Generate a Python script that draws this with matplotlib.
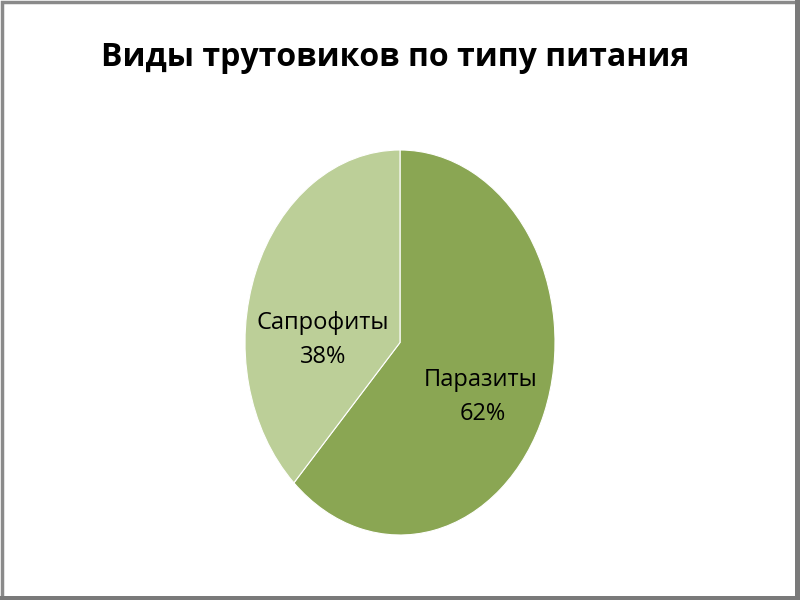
import matplotlib
matplotlib.use("Agg")
import matplotlib.pyplot as plt
from matplotlib.patches import Rectangle

title = "Виды трутовиков по типу питания"
categories = ["Паразиты", "Сапрофиты"]
values = [62, 38]
colors = ["#8aa653", "#bccf98"]

plt.rcParams['font.family'] = ['Open Sans', 'DejaVu Sans']

fig = plt.figure(figsize=(8, 6), dpi=100)
fig.patch.set_facecolor("white")

# frame
fig.add_artist(Rectangle((0.002, 0.003), 0.994, 0.994, transform=fig.transFigure,
                         fill=False, edgecolor="#8a8a8a", lw=2.5))
fig.add_artist(Rectangle((0.0, 0.0), 1.0, 0.006, transform=fig.transFigure,
                         color="#7a7a7a", lw=0))
fig.add_artist(Rectangle((0.994, 0.0), 0.006, 1.0, transform=fig.transFigure,
                         color="#7a7a7a", lw=0))

fig.text(0.494, 1 - 57/600, title, ha="center", va="center", fontsize=23,
         fontweight="bold", color="#000000")

ax = fig.add_axes([245/800, 65/600, 310/800, 385/600])
wedges, _ = ax.pie(values, colors=colors, startangle=90, counterclock=False,
                   radius=1.0, wedgeprops=dict(edgecolor="white", linewidth=0.8))
ax.set_aspect("auto")
ax.set_xlim(-1, 1)
ax.set_ylim(-1, 1)
ax.axis("off")

name_pos = [(481/800, 1 - 380/600), (323/800, 1 - 323/600)]
pct_pos = [(483/800, 1 - 414/600), (323/800, 1 - 357/600)]
for cat, v, (x1, y1), (x2, y2) in zip(categories, values, name_pos, pct_pos):
    fig.text(x1, y1, cat, ha="center", va="center", fontsize=17, color="#000000")
    fig.text(x2, y2, f"{v}%", ha="center", va="center", fontsize=17, color="#000000")

fig.savefig("out.png", dpi=100, facecolor="white")
